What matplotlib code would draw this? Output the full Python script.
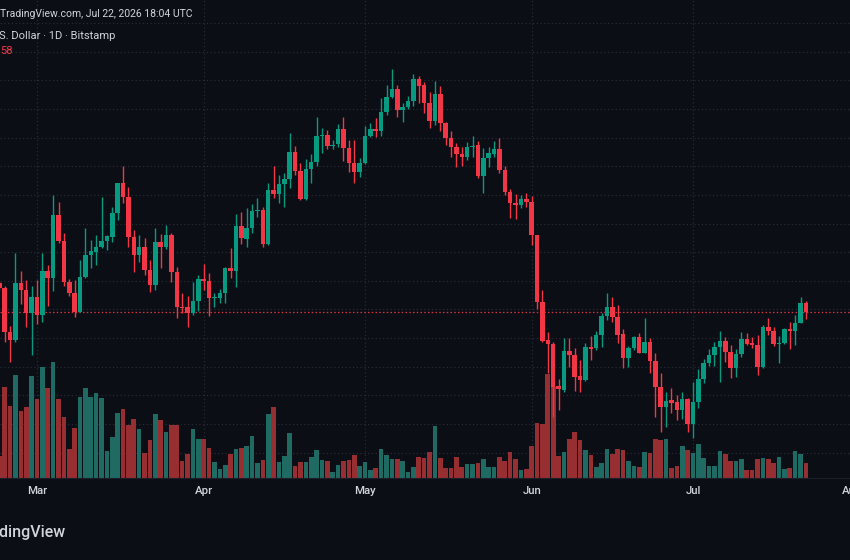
import numpy as np
import pandas as pd
import matplotlib
matplotlib.use("Agg")
import matplotlib.pyplot as plt
from matplotlib import transforms

plt.rcParams['font.family'] = ['Roboto', 'DejaVu Sans']

BG = '#0c0e15'
GRID = '#272b36'
TEXT = '#d1d4dc'
UP = '#089981'
DOWN = '#f23645'
UP_VOL = '#1f6b63'
DOWN_VOL = '#962e32'

# Daily candles (Bitstamp), Feb 22 .. Jul 22 2026
dates = pd.date_range("2026-02-22", "2026-07-22", freq="D")

opens = [
    # Feb 22-28
    120800, 120330, 115930, 115100, 120770, 120100, 117770,
    # Mar
    119430, 117600, 122000, 121270, 127600, 125000, 120930, 119770, 117930, 121430,
    123600, 123930, 124370, 125030, 125430, 127770, 130770, 129370, 125430, 123600,
    124370, 122100, 120600, 124930, 124370, 125600, 121930, 118430, 118430, 117830, 119030,
    # Apr
    121170, 121000, 119270, 119300, 119830, 122270, 122030, 126500, 125200, 126270,
    128050, 128100, 124700, 130100, 129700, 130670, 131170, 133930, 132000, 129200,
    132170, 132870, 135470, 135570, 134500, 134670, 136170, 134330, 132830, 131930,
    # May
    132770, 135500, 136200, 136000, 137870, 139430, 140170, 138100, 138370, 139030,
    141200, 140600, 138770, 137000, 139670, 136830, 135330, 134370, 133670, 133370,
    134430, 134600, 131500, 133270, 133700, 134170, 132100, 129930, 128830, 128570, 129170,
    # Jun
    128900, 125600, 118930, 115070, 114700, 110500, 110100, 114000, 113600, 111500,
    111100, 114370, 114270, 115600, 117530, 118430, 117430, 115670, 113270, 114270,
    115370, 113830, 114930, 113000, 110430, 108430, 109100, 108930, 108100, 109200,
    # Jul
    106700, 108930, 111230, 112770, 113600, 114370, 115000, 113930, 112270, 113700,
    115170, 114770, 114600, 112370, 116430, 116030, 114670, 114770, 116170, 116030,
    116830, 118770,
]

highs = [
    121000, 120500, 116500, 123770, 122000, 121100, 120500,
    121100, 123770, 122600, 129600, 128930, 125770, 121200, 121100, 123100, 126270,
    125100, 125600, 129430, 125600, 128430, 130800, 132500, 130430, 126100, 125600,
    125270, 123100, 126270, 125700, 126600, 125800, 122430, 119800, 119500, 120930, 121600,
    122700, 121770, 119830, 120170, 122430, 124270, 127700, 127930, 128330, 128700,
    129270, 128430, 130770, 132500, 131600, 131770, 135830, 134500, 132770, 133170,
    133700, 137370, 136270, 136100, 135100, 136670, 137370, 135100, 135100, 133270,
    136500, 136830, 137270, 139270, 140600, 142170, 140600, 138830, 139500, 141670,
    141500, 140930, 139930, 141030, 140500, 136930, 136030, 134830, 134430, 134930,
    135500, 135030, 134270, 134370, 135030, 135270, 132500, 130170, 129700, 129600, 129770,
    129500, 125600, 120100, 115930, 114930, 111170, 115270, 115270, 114270, 113100,
    114770, 115500, 116030, 117770, 119830, 119430, 118600, 116170, 114500, 115500,
    115770, 117270, 115270, 113770, 111770, 109930, 110270, 109600, 109930, 109270,
    110930, 112170, 113170, 114170, 114930, 116030, 115370, 114600, 114170, 115930,
    115770, 115370, 115600, 116600, 117270, 116370, 115500, 116270, 116930, 117600,
    119370, 119030,
]

lows = [
    120100, 114930, 112930, 114930, 118700, 116430, 113600,
    116700, 116930, 118530, 120000, 124770, 120500, 119500, 117430, 117900, 121270,
    122270, 122600, 124300, 124100, 124930, 127100, 128770, 124430, 121930, 122930,
    121600, 119930, 120100, 122270, 124170, 120930, 117300, 117800, 116430, 117600, 118030,
    120100, 117500, 118430, 118830, 118830, 121270, 120430, 124700, 124430, 125830,
    127430, 124430, 124600, 129270, 128830, 128430, 130270, 131600, 129150, 129150,
    130770, 132500, 133830, 134170, 134170, 134370, 133030, 131930, 130830, 131370,
    132700, 135370, 135370, 135500, 137600, 139270, 137430, 136930, 138170, 138500,
    138770, 137830, 136270, 136600, 136030, 134600, 133370, 132370, 132500, 133100,
    133370, 131270, 129770, 132370, 133370, 131770, 129600, 127270, 127170, 128270, 128430,
    124600, 118170, 114930, 111770, 107430, 108100, 109930, 112430, 110030, 109930,
    111030, 113100, 114100, 114430, 117100, 116930, 114770, 112270, 112370, 114100,
    113770, 113770, 111830, 107430, 105930, 106370, 107770, 107100, 107170, 105930,
    105270, 108270, 110770, 112500, 112500, 110930, 112930, 111270, 111430, 113370,
    114600, 114270, 111600, 112270, 115600, 114500, 112770, 114700, 114170, 114600,
    116770, 117170,
]

closes = [
    120300, 115930, 115100, 120770, 120100, 117770, 119430,
    117600, 122000, 121270, 127600, 125000, 120930, 119770, 117930, 121430, 123600,
    124000, 124430, 125030, 125500, 127770, 130770, 129370, 125430, 123600, 124370,
    122100, 120600, 124930, 124430, 125600, 121930, 118430, 118350, 117830, 119030, 121170,
    121000, 119270, 119350, 119830, 122270, 122030, 126500, 125270, 126330, 128030,
    128130, 124700, 130100, 129700, 130670, 131170, 133930, 132000, 129200, 132170,
    132870, 135530, 135550, 134500, 134600, 136170, 134270, 132830, 131930, 132830,
    135500, 136170, 136030, 137870, 139430, 140170, 138100, 138370, 139030, 141200,
    140530, 138770, 137000, 139670, 136770, 135330, 134370, 133670, 133370, 134430,
    134530, 131500, 133270, 133770, 134170, 132100, 129930, 128770, 128570, 129170, 128900,
    125600, 118930, 115000, 114700, 110430, 110230, 114000, 113600, 111430, 111100,
    114370, 114230, 115600, 117530, 118430, 117430, 115600, 113270, 114270, 115430,
    113830, 114930, 113000, 110430, 108430, 109030, 108830, 108100, 109200, 106700,
    108930, 111230, 112770, 113600, 114370, 115000, 113930, 112270, 113700, 115170,
    114700, 114600, 112370, 116430, 116030, 114670, 114830, 116170, 116030, 116830,
    118770, 117930,
]

volumes = [
    446, 1826, 1446, 2060, 1340, 1414, 2040,
    1586, 2226, 1794, 2326, 1586, 1226, 580, 994, 1614, 1794,
    1614, 1694, 1606, 546, 814, 1306, 1374, 1060, 1186, 974,
    506, 760, 1274, 1160, 926, 1060, 1060, 340, 474, 974, 774,
    774, 594, 314, 174, 260, 474, 574, 606, 646, 840,
    294, 360, 1274, 1414, 314, 440, 906, 240, 314, 326,
    426, 560, 360, 340, 126, 260, 346, 360, 460, 240,
    326, 160, 194, 580, 460, 374, 380, 340, 114, 214,
    414, 394, 526, 1040, 394, 194, 206, 426, 214, 280,
    280, 294, 374, 214, 214, 426, 340, 526, 374, 160, 186,
    646, 1094, 1074, 2080, 1826, 446, 526, 774, 926, 760,
    560, 460, 226, 306, 574, 480, 574, 560, 346, 246,
    214, 526, 494, 774, 760, 774, 194, 246, 646, 560,
    506, 680, 394, 246, 246, 540, 480, 340, 340, 374,
    160, 160, 380, 394, 380, 306, 426, 174, 194, 546,
    480, 306,
]

month_names = ['Mar', 'Apr', 'May', 'Jun', 'Jul', 'Aug']
month_starts = pd.to_datetime(['2026-03-01', '2026-04-01', '2026-05-01',
                               '2026-06-01', '2026-07-01', '2026-08-01'])

header_time = 'TradingView.com, Jul 22, 2026 18:04 UTC'
header_symbol = 'S. Dollar · 1D · Bitstamp'
header_change = '58'

o = np.array(opens, dtype=float)
h = np.array(highs, dtype=float)
l = np.array(lows, dtype=float)
c = np.array(closes, dtype=float)
v = np.array(volumes, dtype=float)

ref = pd.Timestamp('2026-03-01')
x = (dates - ref).days.values.astype(float)
mx = (month_starts - ref).days.values.astype(float)

rising = c >= o
colors = np.where(rising, UP, DOWN)
vol_colors = np.where(rising, UP_VOL, DOWN_VOL)

fig = plt.figure(figsize=(8.5, 5.6), dpi=100, facecolor=BG)
ax_vol = fig.add_axes([0, 82 / 560, 1, 478 / 560])
ax = ax_vol.twinx()
ax.set_zorder(ax_vol.get_zorder() + 1)
ax.patch.set_visible(False)
ax_vol.set_facecolor(BG)

ax.set_xlim(-6.88, 151.2)
ax.set_ylim(101300, 149100)

# grid (under the volume bars)
grid_levels = 146780 - 2862 * np.arange(16)
hgrid_tr = transforms.blended_transform_factory(ax_vol.transAxes, ax.transData)
for lvl in grid_levels:
    ax_vol.plot([0, 1], [lvl, lvl], transform=hgrid_tr, color=GRID,
                lw=0.9, ls=(0, (1, 2)), zorder=0)
for xm in mx[:-1]:
    ax_vol.axvline(xm, color=GRID, lw=0.9, ls=(0, (1, 2)), zorder=0)

ax_vol.bar(x, v, width=0.86, color=vol_colors, linewidth=0, zorder=2)
ax_vol.set_ylim(0, 9560)

# last price line
ax.axhline(c[-1], color=DOWN, lw=0.9, ls=(0, (1.2, 1.8)), alpha=0.9, zorder=1)

# candles
ax.vlines(x, l, h, colors=colors, lw=1.0, zorder=3)
body_low = np.minimum(o, c)
body_h = np.maximum(np.abs(c - o), 90)
ax.bar(x, body_h, bottom=body_low, width=0.84, color=colors, linewidth=0, zorder=4)

for a in (ax, ax_vol):
    a.set_xticks([])
    a.set_yticks([])
    for s in a.spines.values():
        s.set_visible(False)
ax_vol.spines['bottom'].set_visible(True)
ax_vol.spines['bottom'].set_color('#1c1f29')

# month labels under the time axis
lab_tr = transforms.blended_transform_factory(ax.transData, fig.transFigure)
for xm, name in zip(mx, month_names):
    tr = lab_tr
    if name == 'Aug':
        # the reference shows this label just at the cropped right edge
        tr = lab_tr + transforms.ScaledTranslation(-8 / 100, 0, fig.dpi_scale_trans)
    ax.text(xm, 1 - 491 / 560, name, transform=tr, ha='center', va='center',
            color=TEXT, fontsize=8.2, fontweight='medium', clip_on=False)

fig.text(0.0, 1 - 14 / 560, header_time, ha='left', va='center', color=TEXT, fontsize=7.5)
fig.text(-0.001, 1 - 36 / 560, header_symbol, ha='left', va='center', color=TEXT, fontsize=8)
fig.text(0.0, 1 - 51 / 560, header_change, ha='left', va='center', color=DOWN, fontsize=8)
fig.text(66 / 850, 1 - 533 / 560, 'TradingView', ha='right', va='center',
         color=TEXT, fontsize=11.5, fontweight='medium')

fig.savefig('out.png', dpi=100, facecolor=BG)
